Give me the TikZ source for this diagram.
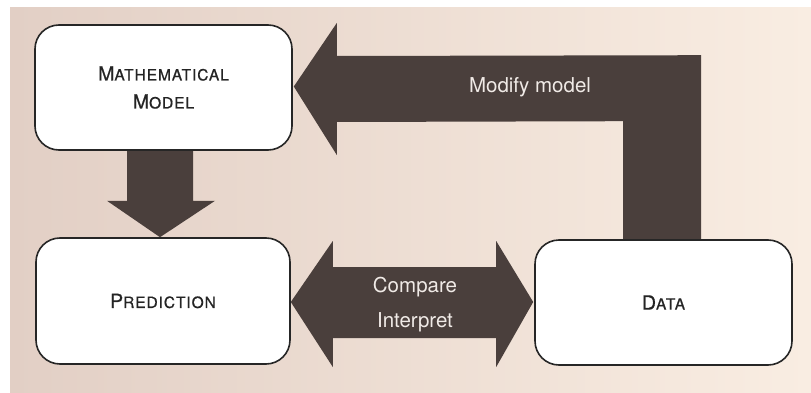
\documentclass[tikz,border=0pt]{standalone}
\usepackage{fontspec}
\setmainfont{TeX Gyre Heros}
\newfontfamily\capfont[LetterSpace=6,FakeBold=0.8]{TeX Gyre Heros}
\usetikzlibrary{calc}
\definecolor{bgleft}{RGB}{226,207,197}
\definecolor{bgmid}{RGB}{236,220,210}
\definecolor{bgright}{RGB}{249,237,226}
\definecolor{arrowdark}{RGB}{74,63,60}
\definecolor{boxline}{RGB}{38,38,38}
\definecolor{boxtext}{RGB}{36,36,36}
\definecolor{lbltext}{RGB}{240,234,230}
\newcommand{\scbig}[1]{{\fontsize{19.5}{28}\selectfont #1}}
\newcommand{\scsmall}[1]{{\fontsize{15.5}{28}\selectfont #1}}
\pgfdeclarelayer{bglayer}
\pgfdeclarelayer{arrowlayer}
\pgfsetlayers{bglayer,arrowlayer,main}
\begin{document}
\begin{tikzpicture}[x=1pt,y=-1pt,
  stagebox/.style={draw=boxline, line width=1.6pt, fill=white, rounded corners=24pt,
    text=boxtext, align=center, inner sep=0pt, font=\capfont\fontsize{19.5}{28}\selectfont},
  fatarrow/.style={fill=arrowdark, draw=none},
  arrowlabel/.style={text=lbltext, anchor=base, inner sep=0pt, font=\fontsize{20.5}{24}\selectfont}]
\useasboundingbox (0,0) rectangle (811,393);

\node[stagebox, minimum width=257pt, minimum height=125pt] (model) at (163.5,87.5)
  {\scbig{M}\scsmall{ATHEMATICAL}\\\scbig{M}\scsmall{ODEL}};
\node[stagebox, minimum width=254pt, minimum height=126pt] (pred) at (163,301)
  {\scbig{P}\scsmall{REDICTION}};
\node[stagebox, minimum width=257pt, minimum height=125pt] (data) at (663.5,302.5)
  {\scbig{D}\scsmall{ATA}};

\begin{pgfonlayer}{bglayer}
  \fill[white] (0,0) rectangle (811,393);
  \shade[left color=bgleft, middle color=bgmid, right color=bgright] (10,8) rectangle (811,393);
\end{pgfonlayer}

\begin{pgfonlayer}{arrowlayer}
  % model -> prediction
  \fill[fatarrow] ($(model.south)+(-36.5,-2)$) -- ($(model.south)+(29.5,-2)$)
    -- ($(model.south)+(29.5,50)$) -- ($(model.south)+(51.5,50)$)
    -- ($(pred.north)+(-3,0)$)
    -- ($(model.south)+(-56.5,50)$) -- ($(model.south)+(-36.5,50)$) -- cycle;
  % data -> model (modify model)
  \fill[fatarrow] ($(data.north)+(-40.5,2)$) -- ($(data.north)+(-40.5,-118)$)
    -- ($(model.east)+(44,34.5)$) -- ($(model.east)+(44,67.5)$)
    -- ($(model.east)+(1,-1)$)
    -- ($(model.east)+(44,-64.5)$) -- ($(model.east)+(44,-31.5)$)
    -- ($(data.north)+(37.5,-184)$) -- ($(data.north)+(37.5,2)$) -- cycle;
  % prediction <-> data
  \fill[fatarrow] ($(pred.east)+(0,1)$)
    -- ($(pred.east)+(42,-60)$) -- ($(pred.east)+(42,-34)$)
    -- ($(data.west)+(-38,-35.5)$) -- ($(data.west)+(-38,-61.5)$)
    -- ($(data.west)+(-1,-0.5)$)
    -- ($(data.west)+(-38,64.5)$) -- ($(data.west)+(-38,35.5)$)
    -- ($(pred.east)+(42,37)$) -- ($(pred.east)+(42,66)$) -- cycle;
\end{pgfonlayer}

\node[arrowlabel] (modlbl) at (530,93) {Modify model};
\node[arrowlabel] (cmplbl) at (415,292) {Compare};
\node[arrowlabel] (intlbl) at (415,327) {Interpret};
\end{tikzpicture}
\end{document}
